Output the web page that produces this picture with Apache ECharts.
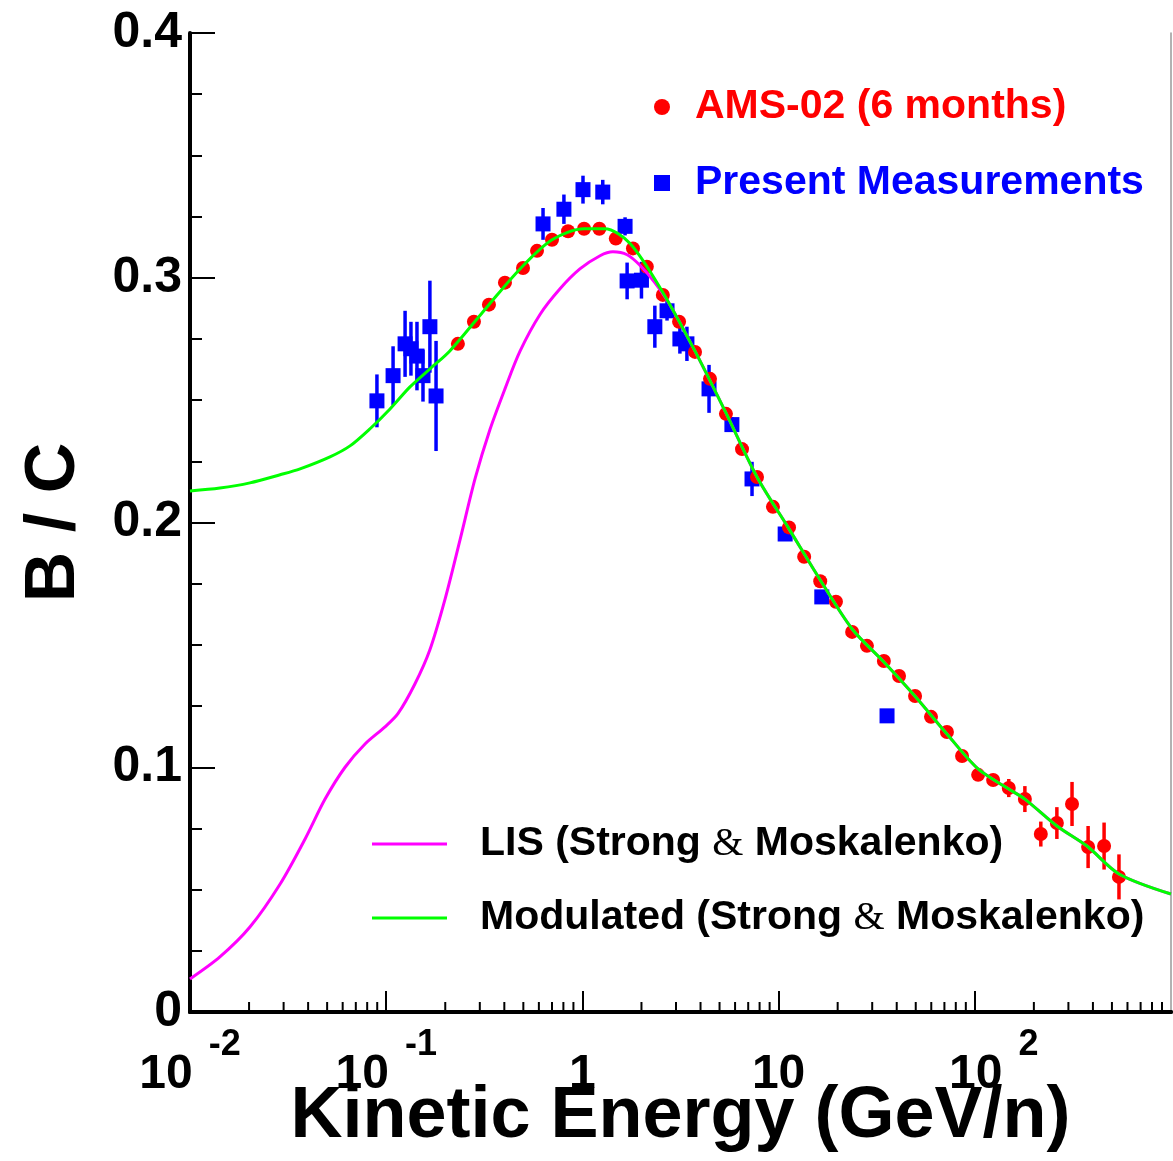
<!DOCTYPE html>
<html>
<head>
<meta charset="utf-8">
<script src="https://cdn.jsdelivr.net/npm/echarts@6/dist/echarts.min.js"></script>
<style>
  html, body { margin: 0; background: #fff; }
  #chart { width: 1173px; height: 1161px; }
</style>
</head>
<body>
<div id="chart"></div>
<script>
// LIS (Strong & Moskalenko)
var lisE = [0.01, 0.0142, 0.0202, 0.0288, 0.0386, 0.0488, 0.0617, 0.078, 0.0986, 0.115, 0.14, 0.167, 0.2, 0.238, 0.284, 0.338, 0.403, 0.481, 0.608, 0.769, 0.971, 1.23, 1.43, 1.69, 1.97, 2.34, 2.79, 3.75, 5.39, 7.76, 11.3, 16.3, 23.7, 34.4, 49.6, 72.1, 104, 149, 180, 262, 373, 543, 1000];
var lisBC = [0.0135, 0.0225, 0.0347, 0.0523, 0.0707, 0.087, 0.100, 0.1095, 0.1165, 0.122, 0.134, 0.148, 0.169, 0.193, 0.218, 0.238, 0.2546, 0.270, 0.285, 0.2955, 0.3036, 0.309, 0.3106, 0.3094, 0.305, 0.298, 0.289, 0.270, 0.2448, 0.2186, 0.1974, 0.1765, 0.1565, 0.143, 0.129, 0.1136, 0.0993, 0.0911, 0.087, 0.076, 0.0678, 0.0564, 0.0482];

// Modulated (Strong & Moskalenko)
var modE = [0.01, 0.0142, 0.0202, 0.0288, 0.0364, 0.0517, 0.0654, 0.0827, 0.1046, 0.1322, 0.1672, 0.211, 0.334, 0.481, 0.70, 1.02, 1.30, 1.75, 2.57, 3.75, 5.39, 7.76, 11.3, 16.3, 23.7, 34.4, 49.6, 72.1, 104, 149, 180, 262, 373, 543, 1000];
var modBC = [0.2129, 0.2141, 0.2162, 0.2195, 0.2219, 0.2268, 0.2313, 0.2383, 0.2464, 0.2554, 0.2628, 0.2701, 0.289, 0.3036, 0.3155, 0.320, 0.320, 0.314, 0.294, 0.270, 0.2448, 0.2186, 0.1974, 0.1765, 0.1565, 0.143, 0.129, 0.1136, 0.0993, 0.0911, 0.087, 0.076, 0.0678, 0.0564, 0.0482];

// AMS-02 (6 months)
var amsE = [0.232, 0.280, 0.334, 0.403, 0.498, 0.587, 0.700, 0.845, 1.02, 1.22, 1.48, 1.81, 2.13, 2.57, 3.11, 3.75, 4.47, 5.39, 6.51, 7.76, 9.36, 11.3, 13.5, 16.3, 19.6, 23.7, 28.2, 34.4, 41.1, 49.6, 59.8, 72.1, 86.1, 104, 124, 149, 180, 217, 262, 313, 378, 456, 543];
var amsBC = [0.273, 0.282, 0.289, 0.298, 0.304, 0.311, 0.3155, 0.319, 0.320, 0.320, 0.316, 0.312, 0.3045, 0.293, 0.282, 0.2697, 0.2587, 0.2444, 0.230, 0.2186, 0.2064, 0.198, 0.186, 0.176, 0.1676, 0.1553, 0.1496, 0.1434, 0.1373, 0.1291, 0.1206, 0.1144, 0.1046, 0.0969, 0.0948, 0.0915, 0.087, 0.0727, 0.0772, 0.085, 0.0674, 0.0678, 0.0552];
var amsErr = [0.001, 0.001, 0.001, 0.001, 0.001, 0.001, 0.001, 0.001, 0.001, 0.001, 0.001, 0.001, 0.001, 0.001, 0.001, 0.001, 0.001, 0.001, 0.001, 0.001, 0.001, 0.001, 0.001, 0.001, 0.001, 0.001, 0.001, 0.001, 0.001, 0.001, 0.002, 0.002, 0.002, 0.002, 0.002, 0.0037, 0.0053, 0.0051, 0.0065, 0.009, 0.0086, 0.0096, 0.0092];

// Present Measurements
var pmE = [0.0897, 0.1084, 0.1248, 0.1337, 0.1435, 0.154, 0.167, 0.1795, 0.630, 0.805, 1.007, 1.27, 1.65, 1.69, 2.0, 2.34, 2.70, 3.14, 3.41, 4.42, 5.78, 7.32, 10.8, 16.6, 35.7];
var pmBC = [0.2497, 0.260, 0.273, 0.271, 0.268, 0.260, 0.280, 0.2517, 0.322, 0.328, 0.336, 0.335, 0.321, 0.2987, 0.299, 0.280, 0.2865, 0.275, 0.273, 0.2546, 0.240, 0.2178, 0.1953, 0.1696, 0.121];
var pmErr = [0.0108, 0.012, 0.0135, 0.011, 0.014, 0.0106, 0.0188, 0.0225, 0.0065, 0.006, 0.0057, 0.005, 0.0037, 0.0075, 0.0075, 0.0086, 0.004, 0.006, 0.007, 0.0098, 0.003, 0.007, 0.002, 0.002, 0];

var decades = [-2, -1, 0, 1, 2];

var FONT = '"Liberation Sans", Arial, Helvetica, sans-serif';

function zip(a, b, c) {
  return a.map(function (v, i) { return c ? [v, b[i], c[i]] : [v, b[i]]; });
}

// minor log ticks 2..9 in every decade
var minorTicks = [];
decades.forEach(function (d) {
  for (var m = 2; m <= 9; m++) minorTicks.push([m * Math.pow(10, d), 0]);
});

function errorBar(color) {
  return function (params, api) {
    var x = api.value(0), y = api.value(1), e = api.value(2);
    var p1 = api.coord([x, y - e]);
    var p2 = api.coord([x, y + e]);
    return {
      type: 'line',
      shape: { x1: p1[0], y1: p1[1], x2: p2[0], y2: p2[1] },
      style: { stroke: color, lineWidth: 3.5 }
    };
  };
}

var chart = echarts.init(document.getElementById('chart'));

var option = {
  animation: false,
  backgroundColor: '#fff',
  grid: { left: 190, right: 2, top: 33, bottom: 149, outerBoundsMode: 'none', containLabel: false },
  legend: [
    {
      data: [
        { name: 'AMS-02 (6 months)', icon: 'circle', textStyle: { color: '#ff0000' } },
        { name: 'Present Measurements', icon: 'rect', textStyle: { color: '#0000ff' } }
      ],
      orient: 'vertical',
      left: 654,
      top: 85,
      padding: 0,
      itemGap: 32,
      itemWidth: 16,
      itemHeight: 16,
      selectedMode: false,
      textStyle: {
        fontFamily: FONT, fontSize: 41, fontWeight: 'bold',
        lineHeight: 44, padding: [0, 0, 0, 20]
      }
    },
    {
      data: ['LIS (Strong & Moskalenko)', 'Modulated (Strong & Moskalenko)'],
      orient: 'vertical',
      left: 372,
      top: 822,
      padding: 0,
      itemGap: 30,
      itemWidth: 75,
      itemHeight: 3,
      icon: 'rect',
      selectedMode: false,
      formatter: function (name) { return name.replace('&', '{amp|&}'); },
      textStyle: {
        fontFamily: FONT, fontSize: 41, fontWeight: 'bold', color: '#000',
        lineHeight: 44, padding: [0, 0, 0, 28],
        rich: {
          amp: { fontFamily: '"Liberation Serif", "Times New Roman", serif', fontSize: 40, fontWeight: 'normal', color: '#000' }
        }
      }
    }
  ],
  xAxis: [
    {
      type: 'log',
      logBase: 10,
      min: 0.01,
      max: 1000,
      splitNumber: 5,
      name: 'Kinetic Energy (GeV/n)',
      nameLocation: 'middle',
      nameGap: 69,
      nameMoveOverlap: false,
      nameTextStyle: { fontFamily: FONT, fontSize: 72, fontWeight: 'bold', color: '#000' },
      axisLine: { lineStyle: { color: '#000', width: 4 } },
      axisTick: { inside: true, length: 21, lineStyle: { color: '#000', width: 2 } },
      minorTick: { show: false },
      splitLine: { show: false },
      axisLabel: {
        margin: 9,
        showMaxLabel: false,
        formatter: function (v) {
          var p = Math.round(Math.log10(v));
          if (p === 0) return '{b|1}';
          if (p === 1) return '{b|10}';
          if (p > 2) return '';
          if (p > 0) return '{bp|10}{s|' + p + '}';
          return '{b|10}{s|' + p + '}';
        },
        rich: {
          b: { fontFamily: FONT, fontSize: 48, fontWeight: 'bold', color: '#000', lineHeight: 108 },
          bp: { fontFamily: FONT, fontSize: 48, fontWeight: 'bold', color: '#000', lineHeight: 108, padding: [0, 0, 0, 38] },
          s: { fontFamily: FONT, fontSize: 36, fontWeight: 'bold', color: '#000', lineHeight: 56, verticalAlign: 'top', padding: [6, 0, 0, 16] }
        }
      }
    },
    {
      type: 'log',
      logBase: 10,
      min: 0.01,
      max: 1000,
      position: 'top',
      axisLine: { show: true, lineStyle: { color: '#000', width: 4 } },
      axisTick: { show: false },
      axisLabel: { show: false },
      splitLine: { show: false }
    }
  ],
  yAxis: [
    {
      type: 'value',
      min: 0,
      max: 0.4,
      interval: 0.1,
      name: 'B / C',
      nameLocation: 'middle',
      nameGap: 100,
      nameTextStyle: { fontFamily: FONT, fontSize: 70, fontWeight: 'bold', color: '#000' },
      axisLine: { show: true, lineStyle: { color: '#000', width: 4 } },
      axisTick: { show: true, inside: true, length: 25, lineStyle: { color: '#000', width: 2 } },
      minorTick: { show: true, splitNumber: 4, length: 12, lineStyle: { color: '#000', width: 2 } },
      splitLine: { show: false },
      axisLabel: {
        margin: 8,
        fontFamily: FONT, fontSize: 50, fontWeight: 'bold', color: '#000',
        formatter: function (v) { return v === 0 ? '0' : v.toFixed(1); }
      }
    },
    {
      type: 'value',
      min: 0,
      max: 0.4,
      position: 'right',
      axisLine: { show: true, lineStyle: { color: '#999', width: 1.5 } },
      axisTick: { show: false },
      axisLabel: { show: false },
      splitLine: { show: false }
    }
  ],
  series: [
    {
      type: 'custom',
      silent: true,
      renderItem: function (params, api) {
        var p = api.coord([api.value(0), 0]);
        return {
          type: 'line',
          shape: { x1: p[0], y1: p[1], x2: p[0], y2: p[1] - 10 },
          style: { stroke: '#000', lineWidth: 2 }
        };
      },
      data: minorTicks
    },
    {
      name: 'LIS (Strong & Moskalenko)',
      type: 'line',
      smooth: 0.3,
      symbol: 'none',
      itemStyle: { color: '#ff00ff' },
      lineStyle: { color: '#ff00ff', width: 3 },
      data: zip(lisE, lisBC)
    },
    {
      name: 'Modulated (Strong & Moskalenko)',
      type: 'line',
      smooth: 0.3,
      symbol: 'none',
      itemStyle: { color: '#00ff00' },
      lineStyle: { color: '#00ff00', width: 3 },
      data: zip(modE, modBC)
    },
    {
      type: 'custom',
      silent: true,
      renderItem: errorBar('#0000ff'),
      encode: { x: 0, y: 1 },
      data: zip(pmE, pmBC, pmErr)
    },
    {
      name: 'Present Measurements',
      type: 'scatter',
      symbol: 'rect',
      symbolSize: 15,
      itemStyle: { color: '#0000ff', opacity: 1 },
      data: zip(pmE, pmBC)
    },
    {
      type: 'custom',
      silent: true,
      renderItem: errorBar('#ff0000'),
      encode: { x: 0, y: 1 },
      data: zip(amsE, amsBC, amsErr)
    },
    {
      name: 'AMS-02 (6 months)',
      type: 'scatter',
      symbol: 'circle',
      symbolSize: 14,
      itemStyle: { color: '#ff0000', opacity: 1 },
      data: zip(amsE, amsBC)
    }
  ]
};

chart.setOption(option);
</script>
</body>
</html>
